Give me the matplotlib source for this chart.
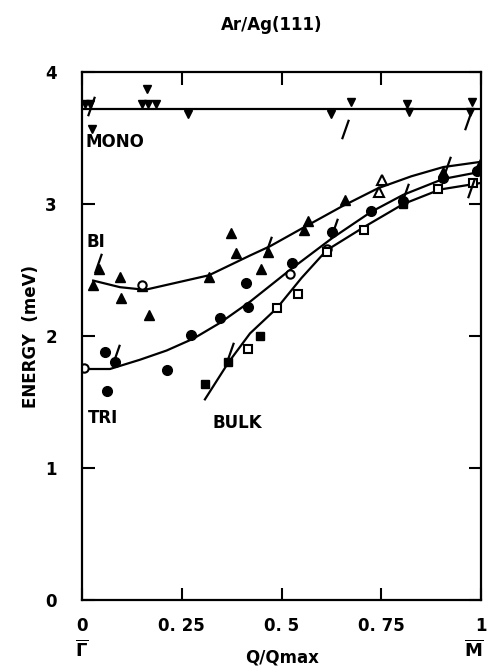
import numpy as np
import matplotlib
matplotlib.use("Agg")
import matplotlib.pyplot as plt
from matplotlib.path import Path

# MONO layer: flat line and down triangles
mono_line_x = [0.0, 1.0]
mono_line_y = [3.72, 3.72]
mono_x = [0.008, 0.02, 0.024, 0.15, 0.165, 0.185, 0.164, 0.265, 0.623, 0.674, 0.815, 0.82, 0.977, 0.972]
mono_y = [3.76, 3.76, 3.57, 3.76, 3.76, 3.76, 3.87, 3.68, 3.68, 3.77, 3.76, 3.70, 3.77, 3.70]

# BI layer: triangles (filled / open) and fit curve
bi_fill_x = [0.028, 0.043, 0.095, 0.098, 0.15, 0.168, 0.318, 0.373, 0.387, 0.449, 0.467, 0.555, 0.565, 0.659, 0.905, 0.997]
bi_fill_y = [2.39, 2.51, 2.45, 2.29, 2.38, 2.16, 2.45, 2.78, 2.63, 2.51, 2.64, 2.80, 2.87, 3.03, 3.24, 3.30]
bi_open_x = [0.751, 0.743]
bi_open_y = [3.18, 3.09]
bi_curve_x = [0.028, 0.095, 0.158, 0.318, 0.421, 0.471, 0.554, 0.65, 0.742, 0.825, 0.905, 1.0]
bi_curve_y = [2.42, 2.37, 2.35, 2.46, 2.61, 2.68, 2.82, 2.98, 3.12, 3.21, 3.28, 3.32]

# TRI layer: circles (filled / open) and fit curve
tri_fill_x = [0.058, 0.062, 0.083, 0.212, 0.272, 0.346, 0.41, 0.415, 0.525, 0.626, 0.724, 0.805, 0.905, 0.989]
tri_fill_y = [1.88, 1.58, 1.80, 1.74, 2.01, 2.14, 2.40, 2.22, 2.55, 2.79, 2.95, 3.02, 3.20, 3.25]
tri_open_x = [0.005, 0.15, 0.52, 0.615]
tri_open_y = [1.76, 2.39, 2.47, 2.66]
tri_curve_x = [0.0, 0.07, 0.145, 0.212, 0.279, 0.346, 0.421, 0.525, 0.626, 0.724, 0.805, 0.905, 1.0]
tri_curve_y = [1.75, 1.75, 1.82, 1.89, 1.98, 2.10, 2.26, 2.51, 2.74, 2.94, 3.07, 3.19, 3.245]

# BULK layer: squares (filled / open) and fit curve
bulk_fill_x = [0.308, 0.367, 0.446, 0.805]
bulk_fill_y = [1.64, 1.80, 2.00, 3.00]
bulk_open_x = [0.417, 0.488, 0.54, 0.615, 0.707, 0.893, 0.98]
bulk_open_y = [1.90, 2.21, 2.32, 2.64, 2.80, 3.11, 3.16]
bulk_curve_x = [0.308, 0.367, 0.421, 0.488, 0.55, 0.613, 0.709, 0.805, 0.897, 1.0]
bulk_curve_y = [1.52, 1.80, 2.02, 2.21, 2.44, 2.65, 2.83, 3.00, 3.11, 3.16]

# slanted marks
slash_x = [0.022, 0.66, 0.967, 0.04, 0.467, 0.084, 0.372, 0.632, 0.81, 0.915, 0.975]
slash_y = [3.74, 3.57, 3.64, 2.55, 2.68, 1.86, 1.88, 2.82, 3.08, 3.29, 3.12]

xticks = [0, 0.25, 0.5, 0.75, 1]
xtick_labels = ["0", "0. 25", "0. 5", "0. 75", "1"]
yticks = [0, 1, 2, 3, 4]

plt.rcParams['font.family'] = ['DejaVu Sans']
plt.rcParams['font.weight'] = 'bold'
plt.rcParams['axes.labelweight'] = 'bold'

fig = plt.figure(figsize=(4.88, 6.70), dpi=100)
ax = fig.add_axes([0.168, 0.1045, 0.818, 0.788])

lw = 1.6
ax.plot(mono_line_x, mono_line_y, color='black', lw=lw)
ax.plot(bi_curve_x, bi_curve_y, color='black', lw=lw)
ax.plot(tri_curve_x, tri_curve_y, color='black', lw=lw)
ax.plot(bulk_curve_x, bulk_curve_y, color='black', lw=lw)

ax.plot(mono_x, mono_y, 'v', color='black', ms=6, mfc='black', ls='none')
ax.plot(bi_fill_x, bi_fill_y, '^', color='black', ms=7, ls='none')
ax.plot(bi_open_x, bi_open_y, '^', color='black', ms=7, mfc='white', mew=1.5, ls='none')
ax.plot(tri_fill_x, tri_fill_y, 'o', color='black', ms=7, ls='none')
ax.plot(tri_open_x, tri_open_y, 'o', color='black', ms=6, mfc='white', mew=1.5, ls='none')
ax.plot(bulk_fill_x, bulk_fill_y, 's', color='black', ms=6, ls='none')
ax.plot(bulk_open_x, bulk_open_y, 's', color='black', ms=6, mfc='white', mew=1.5, ls='none')

slash = Path([(-0.35, -1.0), (0.35, 1.0)], [Path.MOVETO, Path.LINETO])
ax.plot(slash_x, slash_y, marker=slash, ms=14, mew=1.6, color='black', ls='none')

ax.set_xlim(0, 1)
ax.set_ylim(0, 4)
ax.set_xticks(xticks)
ax.set_xticklabels(xtick_labels)
ax.set_yticks(yticks)
ax.tick_params(axis='both', direction='in', length=9, width=1.5, labelsize=12,
               top=True, right=True, pad=12)
ax.tick_params(axis='y', pad=18)
for s in ax.spines.values():
    s.set_linewidth(1.6)

ax.text(0.0, -0.30, r'$\overline{\Gamma}$', fontsize=13, ha='center', va='top')
ax.text(0.983, -0.30, r'$\overline{\mathrm{M}}$', fontsize=13, ha='center', va='top')

ax.text(0.01, 3.47, 'MONO', fontsize=12, ha='left', va='center')
ax.text(0.012, 2.71, 'BI', fontsize=12, ha='left', va='center')
ax.text(0.015, 1.38, 'TRI', fontsize=12, ha='left', va='center')
ax.text(0.328, 1.34, 'BULK', fontsize=12, ha='left', va='center')

ax.set_xlabel('Q/Qmax', fontsize=12, labelpad=10)
ax.set_ylabel('ENERGY  (meV)', fontsize=12, labelpad=4)
fig.text(0.557, 0.963, 'Ar/Ag(111)', fontsize=12, ha='center', va='center')

fig.savefig('out.png', dpi=100)
